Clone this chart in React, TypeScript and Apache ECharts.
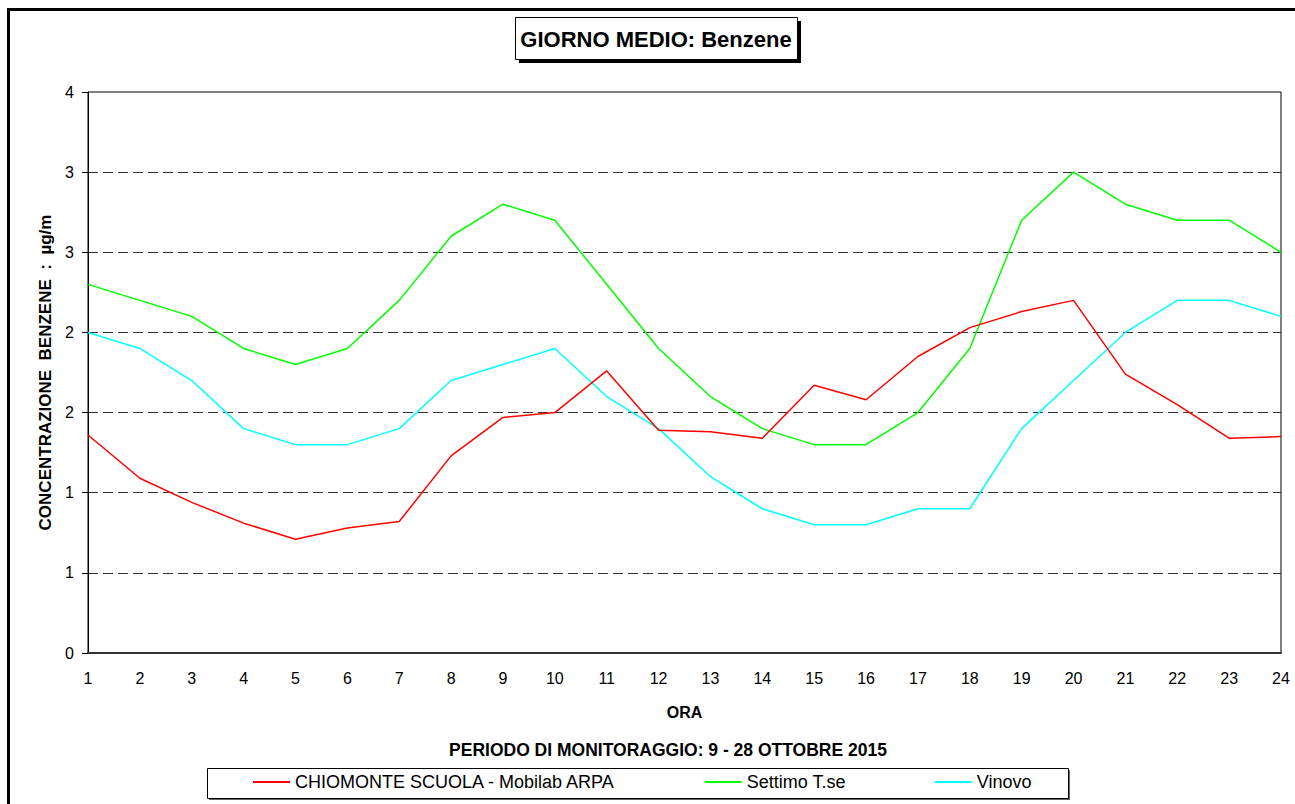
import React, { useEffect, useRef } from "react";
import * as echarts from "echarts";

const hours = ["1","2","3","4","5","6","7","8","9","10","11","12","13","14","15","16","17","18","19","20","21","22","23","24"];
const chiomonte = [1.36, 1.09, 0.94, 0.81, 0.71, 0.78, 0.82, 1.23, 1.47, 1.5, 1.76, 1.39, 1.38, 1.34, 1.67, 1.58, 1.85, 2.03, 2.13, 2.2, 1.74, 1.55, 1.34, 1.35];
const settimo = [2.3, 2.2, 2.1, 1.9, 1.8, 1.9, 2.2, 2.6, 2.8, 2.7, 2.3, 1.9, 1.6, 1.4, 1.3, 1.3, 1.5, 1.9, 2.7, 3.0, 2.8, 2.7, 2.7, 2.5];
const vinovo = [2.0, 1.9, 1.7, 1.4, 1.3, 1.3, 1.4, 1.7, 1.8, 1.9, 1.6, 1.4, 1.1, 0.9, 0.8, 0.8, 0.9, 0.9, 1.4, 1.7, 2.0, 2.2, 2.2, 2.1];
const yTickLabels = ["0", "1", "1", "2", "2", "3", "3", "4"];
const seriesNames = ["CHIOMONTE SCUOLA - Mobilab ARPA", "Settimo T.se", "Vinovo"];
const seriesColors = ["#ff0000", "#00ff00", "#00ffff"];

const FONT = "'Liberation Sans', Arial, sans-serif";

export default function App() {
  const ref = useRef<HTMLDivElement>(null);
  useEffect(() => {
    if (!ref.current) return;
    const chart = echarts.init(ref.current, null, { renderer: "svg" });
    const data = [chiomonte, settimo, vinovo];
    chart.setOption({
      animation: false,
      backgroundColor: "#fff",
      textStyle: { fontFamily: FONT, color: "#000" },
      grid: {
        left: 88,
        right: 14,
        top: 92,
        bottom: 151,
        show: true,
        borderColor: "#000",
        borderWidth: 1,
        backgroundColor: "transparent",
        outerBoundsMode: "none",
      },
      graphic: [
        {
          type: "rect",
          shape: { x: 8.5, y: 9.5, width: 1400, height: 1000 },
          style: { fill: "none", stroke: "#000", lineWidth: 3 },
          silent: true,
        },
        {
          type: "rect",
          shape: { x: 519, y: 21, width: 282, height: 42 },
          style: { fill: "#000" },
          silent: true,
        },
        {
          type: "rect",
          shape: { x: 515.5, y: 17.5, width: 282, height: 42 },
          style: { fill: "#fff", stroke: "#000", lineWidth: 1 },
          silent: true,
        },
        {
          type: "text",
          x: 656,
          y: 39,
          style: {
            text: "GIORNO MEDIO: Benzene",
            fontSize: 22,
            fontWeight: "bold",
            fontFamily: FONT,
            fill: "#000",
            align: "center",
            verticalAlign: "middle",
          },
          silent: true,
        },
        {
          type: "text",
          x: 668,
          y: 750,
          style: {
            text: "PERIODO DI MONITORAGGIO: 9 - 28 OTTOBRE 2015",
            fontSize: 17.5,
            fontWeight: "bold",
            fontFamily: FONT,
            fill: "#000",
            align: "center",
            verticalAlign: "middle",
          },
          silent: true,
        },
        {
          type: "rect",
          shape: { x: 209, y: 770, width: 861, height: 30 },
          style: { fill: "#666" },
          silent: true,
        },
        {
          type: "rect",
          shape: { x: 207.5, y: 768.5, width: 861, height: 30 },
          style: { fill: "#fff", stroke: "#000", lineWidth: 1 },
          silent: true,
        },
      ],
      legend: {
        left: 253,
        top: 773,
        padding: 0,
        itemGap: 89,
        itemWidth: 37,
        itemHeight: 2,
        icon: "rect",
        textStyle: { fontSize: 18, color: "#000", fontFamily: FONT },
        data: seriesNames,
      },
      xAxis: {
        type: "category",
        data: hours,
        boundaryGap: false,
        axisLine: { show: true, lineStyle: { color: "#333", width: 2 } },
        axisTick: { show: false },
        axisLabel: { fontSize: 16, color: "#000", margin: 17, fontFamily: FONT },
        splitLine: { show: false },
        name: "ORA",
        nameLocation: "middle",
        nameGap: 51,
        nameTextStyle: { fontSize: 16, fontWeight: "bold", color: "#000", fontFamily: FONT },
      },
      yAxis: {
        type: "value",
        min: 0,
        max: 3.5,
        interval: 0.5,
        axisLine: { show: true, lineStyle: { color: "#000", width: 1 } },
        axisTick: { show: true, length: 6, lineStyle: { color: "#000" } },
        axisLabel: {
          fontSize: 16,
          color: "#000",
          margin: 14,
          fontFamily: FONT,
          formatter: (v: number) => yTickLabels[Math.round(v / 0.5)] ?? "",
        },
        splitLine: {
          show: true,
          showMaxLine: false,
          lineStyle: { type: [10, 5], color: "#333", width: 1 },
        },
        name: "CONCENTRAZIONE  BENZENE  :  µg/m",
        nameLocation: "middle",
        nameGap: 34,
        nameTextStyle: { fontSize: 17, fontWeight: "bold", color: "#000", fontFamily: FONT },
      },
      series: seriesNames.map((name, i) => ({
        name,
        type: "line",
        data: data[i],
        symbol: "none",
        lineStyle: { color: seriesColors[i], width: 1.5 },
        itemStyle: { color: seriesColors[i] },
        z: 3 - i,
      })),
    });
    return () => chart.dispose();
  }, []);
  return (
    <div
      ref={ref}
      style={{ position: "absolute", left: 0, top: 0, width: 1295, height: 804 }}
    />
  );
}
